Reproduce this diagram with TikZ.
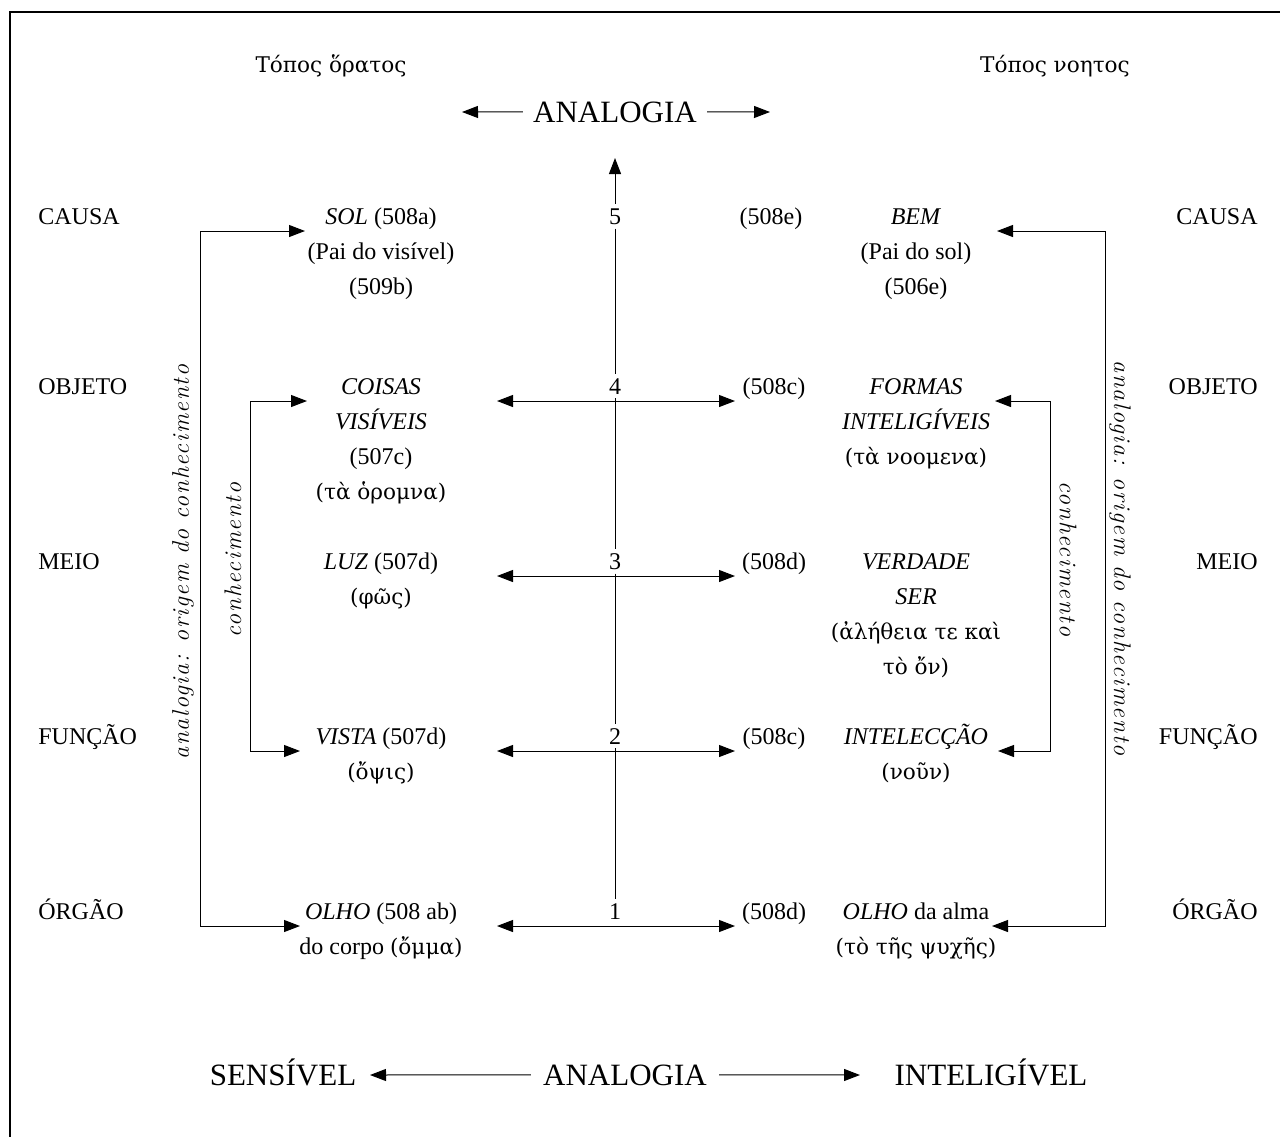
\documentclass[tikz,border=0pt]{standalone}
\usepackage{fontspec}
\setmainfont{Liberation Serif}
\newfontfamily\grk[Scale=0.9]{DejaVu Serif}
\newfontfamily\spaced[LetterSpace=6.5]{lmroman12-italic.otf}
\usetikzlibrary{arrows.meta}

\tikzset{
  txt/.style={anchor=base},
  col/.style={anchor=north, align=center},
  big/.style={anchor=base, font=\fontsize{15.5}{18}\selectfont, text height=10.3pt, text depth=0pt},
  vlab/.style={font=\spaced\fontsize{12}{14}\selectfont},
  arr/.style={-{Triangle[length=8pt,width=6pt]}, line width=0.5pt},
  arrs/.style={{Triangle[length=8pt,width=6pt]}-{Triangle[length=8pt,width=6pt]}, line width=0.5pt}
}

\begin{document}
\begin{tikzpicture}[x=0.5pt, y=-0.5pt,
  every node/.style={inner sep=0pt, font=\fontsize{12}{17.5}\selectfont}]

\useasboundingbox (0,0) rectangle (1280,1137);

% Frame
\draw[line width=0.7pt] (1280,12) -- (10,12) -- (10,1137);

% Headers
\node[txt] (topos-l) at (331,72) {\grk Τόπος ὅρατος};
\node[txt] (topos-r) at (1055,72) {\grk Τόπος νοητος};
\node[big, inner sep=5pt] (ana-top) at (615,122) {ANALOGIA};
\coordinate (tl) at (462,112);
\coordinate (tr) at (770,112);
\draw[arr] (ana-top) -- (tl);
\draw[arr] (ana-top) -- (tr);

% Row labels
\node[anchor=base west] (causa-l) at (38,224) {CAUSA};
\node[anchor=base west] (objeto-l) at (38,394) {OBJETO};
\node[anchor=base west] (meio-l) at (38,569) {MEIO};
\node[anchor=base west] (funcao-l) at (38,744) {FUNÇÃO};
\node[anchor=base west] (orgao-l) at (38,919) {ÓRGÃO};
\node[anchor=base east] (causa-r) at (1258,224) {CAUSA};
\node[anchor=base east] (objeto-r) at (1258,394) {OBJETO};
\node[anchor=base east] (meio-r) at (1258,569) {MEIO};
\node[anchor=base east] (funcao-r) at (1258,744) {FUNÇÃO};
\node[anchor=base east] (orgao-r) at (1258,919) {ÓRGÃO};

% Sensible column
\node[col] (sol) at (381,199.5) {\strut\textit{SOL} (508a)\\(Pai do visível)\\(509b)};
\node[col] (coisas) at (381,369.5) {\strut\textit{COISAS}\\\textit{VISÍVEIS}\\(507c)\\{\grk(τὰ ὁρομνα)}};
\node[col] (luz) at (381,544.5) {\strut\textit{LUZ} (507d)\\{\grk(φῶς)}};
\node[col] (vista) at (381,719.5) {\strut\textit{VISTA} (507d)\\{\grk(ὄψις)}};
\node[col] (olho-c) at (381,894.5) {\strut\textit{OLHO} (508 ab)\\do corpo {\grk(ὄμμα)}};

% Intelligible column
\node[col] (bem) at (916,199.5) {\strut\textit{BEM}\\(Pai do sol)\\(506e)};
\node[col] (formas) at (916,369.5) {\strut\textit{FORMAS}\\\textit{INTELIGÍVEIS}\\{\grk(τὰ νοομενα)}};
\node[col] (verdade) at (916,544.5) {\strut\textit{VERDADE}\\\textit{SER}\\{\grk(ἀλήθεια τε καὶ}\\{\grk τὸ ὄν)}};
\node[col] (intel) at (916,719.5) {\strut\textit{INTELECÇÃO}\\{\grk(νοῦν)}};
\node[col] (olho-a) at (916,894.5) {\strut\textit{OLHO} da alma\\{\grk(τὸ τῆς ψυχῆς)}};

% References
\node[txt] (r5) at (771,224) {(508e)};
\node[txt] (r4) at (774,394) {(508c)};
\node[txt] (r3) at (774,569) {(508d)};
\node[txt] (r2) at (774,744) {(508c)};
\node[txt] (r1) at (774,919) {(508d)};

% Central axis
\node[txt, inner sep=2pt] (n5) at (615,224) {5};
\node[txt, inner sep=2pt] (n4) at (615,394) {4};
\node[txt, inner sep=2pt] (n3) at (615,569) {3};
\node[txt, inner sep=2pt] (n2) at (615,744) {2};
\node[txt, inner sep=2pt] (n1) at (615,919) {1};
\coordinate (up) at (615,158);
\draw[arr] (n5) -- (up);
\draw[line width=0.5pt] (n5) -- (n4) (n4) -- (n3) (n3) -- (n2) (n2) -- (n1);
\foreach \i/\y in {4/401,3/576,2/751,1/926} {
  \coordinate (al\i) at (497,\y);
  \coordinate (ar\i) at (735,\y);
  \draw[arrs] (al\i) -- (ar\i);
}

% Brackets
\coordinate (lo-a) at (200,231);  \coordinate (lo-b) at (200,926);
\coordinate (lo-ta) at (305,231); \coordinate (lo-tb) at (300,926);
\draw[arrs] (lo-ta) -- (lo-a) -- (lo-b) -- (lo-tb);
\coordinate (li-a) at (250,401);  \coordinate (li-b) at (250,751);
\coordinate (li-ta) at (307,401); \coordinate (li-tb) at (300,751);
\draw[arrs] (li-ta) -- (li-a) -- (li-b) -- (li-tb);
\coordinate (ro-a) at (1105,231); \coordinate (ro-b) at (1105,926);
\coordinate (ro-ta) at (997,231); \coordinate (ro-tb) at (992,926);
\draw[arrs] (ro-ta) -- (ro-a) -- (ro-b) -- (ro-tb);
\coordinate (ri-a) at (1050,401); \coordinate (ri-b) at (1050,751);
\coordinate (ri-ta) at (995,401); \coordinate (ri-tb) at (998,751);
\draw[arrs] (ri-ta) -- (ri-a) -- (ri-b) -- (ri-tb);

% Vertical labels
\node[vlab, rotate=90] (ana-l) at (183,562) {analogia: origem do conhecimento};
\node[vlab, rotate=90] (con-l) at (233,560) {conhecimento};
\node[vlab, rotate=-90] (con-r) at (1068,559) {conhecimento};
\node[vlab, rotate=-90] (ana-r) at (1120,558) {analogia: origem do conhecimento};

% Bottom line
\node[big, inner sep=6pt] (ana-bot) at (625,1085) {ANALOGIA};
\node[big] (sens) at (283,1085) {SENSÍVEL};
\node[big] (intlg) at (991,1085) {INTELIGÍVEL};
\coordinate (bl) at (370,1075);
\coordinate (br) at (860,1075);
\draw[arr] (ana-bot) -- (bl);
\draw[arr] (ana-bot) -- (br);

\end{tikzpicture}
\end{document}
